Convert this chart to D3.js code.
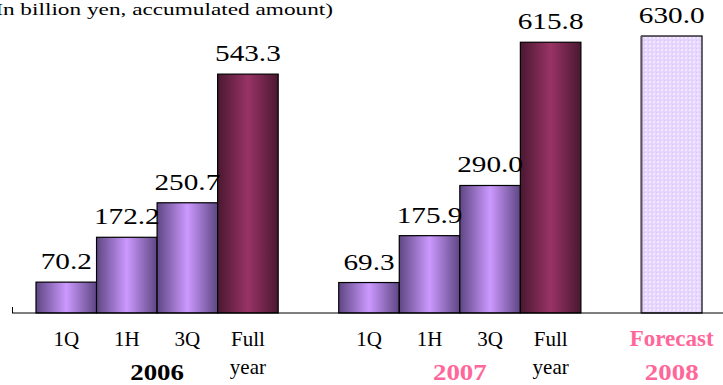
<!DOCTYPE html>
<html lang="en">
<head>
<meta charset="utf-8">
<script src="https://cdn.jsdelivr.net/npm/d3@7"></script>
</head>
<body style="margin:0;background:#fff">
<div id="chart"></div>
<script>
// slots: 4 bars 2006, gap, 4 bars 2007, gap, forecast
var slots = ["06_1Q","06_1H","06_3Q","06_FY","gap1","07_1Q","07_1H","07_3Q","07_FY","gap2","08_F"];
var values = [70.2, 172.2, 250.7, 543.3, null, 69.3, 175.9, 290.0, 615.8, null, 630.0];
var kinds = ["q","q","q","fy",null,"q","q","q","fy",null,"fc"];
var tickLabels = ["1Q","1H","3Q","Full",null,"1Q","1H","3Q","Full",null,null];
var yearLabels = [{slot: 1.5, text: "2006", color: "#000"},
                  {slot: 6.5, text: "2007", color: "#ff6699"},
                  {slot: 10, text: "2008", color: "#ff6699"}];

var serif = "'Liberation Serif', 'Times New Roman', Times, serif";
var width = 723, height = 385;
var svg = d3.select("#chart").append("svg")
    .attr("width", width).attr("height", height);

var x = d3.scaleBand().domain(d3.range(slots.length)).range([36, 702]).padding(0);
var y = d3.scaleLinear().domain([0, 630]).range([313, 36]);

var defs = svg.append("defs");
function grad(id, edge, mid) {
  var g = defs.append("linearGradient").attr("id", id)
    .attr("x1", "0%").attr("x2", "100%").attr("y1", "0%").attr("y2", "0%");
  g.append("stop").attr("offset", "0%").attr("stop-color", edge);
  g.append("stop").attr("offset", "50%").attr("stop-color", mid);
  g.append("stop").attr("offset", "100%").attr("stop-color", edge);
}
grad("gq", "#5e4683", "#cc99ff");
grad("gfy", "#4a1830", "#993366");

var pat = defs.append("pattern").attr("id", "pfc")
  .attr("width", 4).attr("height", 4).attr("patternUnits", "userSpaceOnUse");
pat.append("rect").attr("width", 4).attr("height", 4).attr("fill", "#e6d6ff");
pat.append("circle").attr("cx", 2).attr("cy", 2).attr("r", 1).attr("fill", "#f6f0ff");
pat.append("rect").attr("width", 1).attr("height", 1).attr("fill", "#d8c4f8");

function txt(sel, size, bold) {
  return sel.style("font-family", serif).style("font-size", size + "px")
    .style("font-weight", bold ? "bold" : "normal");
}

// title: text is stretched horizontally and its left part is cut off
var title = txt(svg.append("text"), 17.5)
  .attr("x", 0).attr("y", 0).attr("fill", "#000").attr("text-anchor", "end")
  .attr("transform", "translate(333,15) scale(1.33,1)")
  .text("(In billion yen, accumulated amount)");

var bars = svg.append("g");
values.forEach(function(v, i) {
  if (v == null) return;
  var k = kinds[i];
  var r = bars.append("rect")
    .attr("x", x(i)).attr("y", y(v))
    .attr("width", x.bandwidth()).attr("height", y(0) - y(v))
    .attr("stroke", "#000").attr("stroke-width", 1.2);
  if (k == "q") r.attr("fill", "url(#gq)");
  else if (k == "fy") r.attr("fill", "url(#gfy)");
  else {
    r.attr("fill", "url(#pfc)");
    bars.append("line").attr("x1", x(i)).attr("x2", x(i))
      .attr("y1", y(v)).attr("y2", y(0)).attr("stroke", "#5a5060").attr("stroke-width", 2);
  }
  txt(svg.append("text"), 22.5)
    .attr("x", 0).attr("y", 0)
    .attr("transform", "translate(" + (x(i) + x.bandwidth() / 2) + "," + (y(v) - 13) + ") scale(1.3,1)")
    .attr("text-anchor", "middle").text(v.toFixed(1));
});

// baseline
svg.append("line").attr("x1", 12).attr("x2", 723).attr("y1", y(0)).attr("y2", y(0))
  .attr("stroke", "#000").attr("stroke-width", 1.2);
svg.append("line").attr("x1", 12.5).attr("x2", 12.5).attr("y1", y(0) - 6).attr("y2", y(0))
  .attr("stroke", "#000").attr("stroke-width", 1);

tickLabels.forEach(function(t, i) {
  if (t == null) return;
  txt(svg.append("text"), 21)
    .attr("x", x(i) + x.bandwidth() / 2).attr("y", 346)
    .attr("text-anchor", "middle").text(t);
  if (t == "Full") {
    txt(svg.append("text"), 21)
      .attr("x", x(i) + x.bandwidth() / 2).attr("y", 374)
      .attr("text-anchor", "middle").text("year");
  }
});

txt(svg.append("text"), 23, true)
  .attr("x", x(10) + x.bandwidth() / 2).attr("y", 346)
  .attr("text-anchor", "middle").attr("fill", "#ff6699").text("Forecast");

yearLabels.forEach(function(d) {
  var cx = x(Math.floor(d.slot)) + (d.slot % 1 + 0.5) * x.bandwidth();
  txt(svg.append("text"), 24, true)
    .attr("x", 0).attr("y", 0)
    .attr("transform", "translate(" + cx + ",380) scale(1.12,1)")
    .attr("text-anchor", "middle")
    .attr("fill", d.color).text(d.text);
});
</script>
</body>
</html>
